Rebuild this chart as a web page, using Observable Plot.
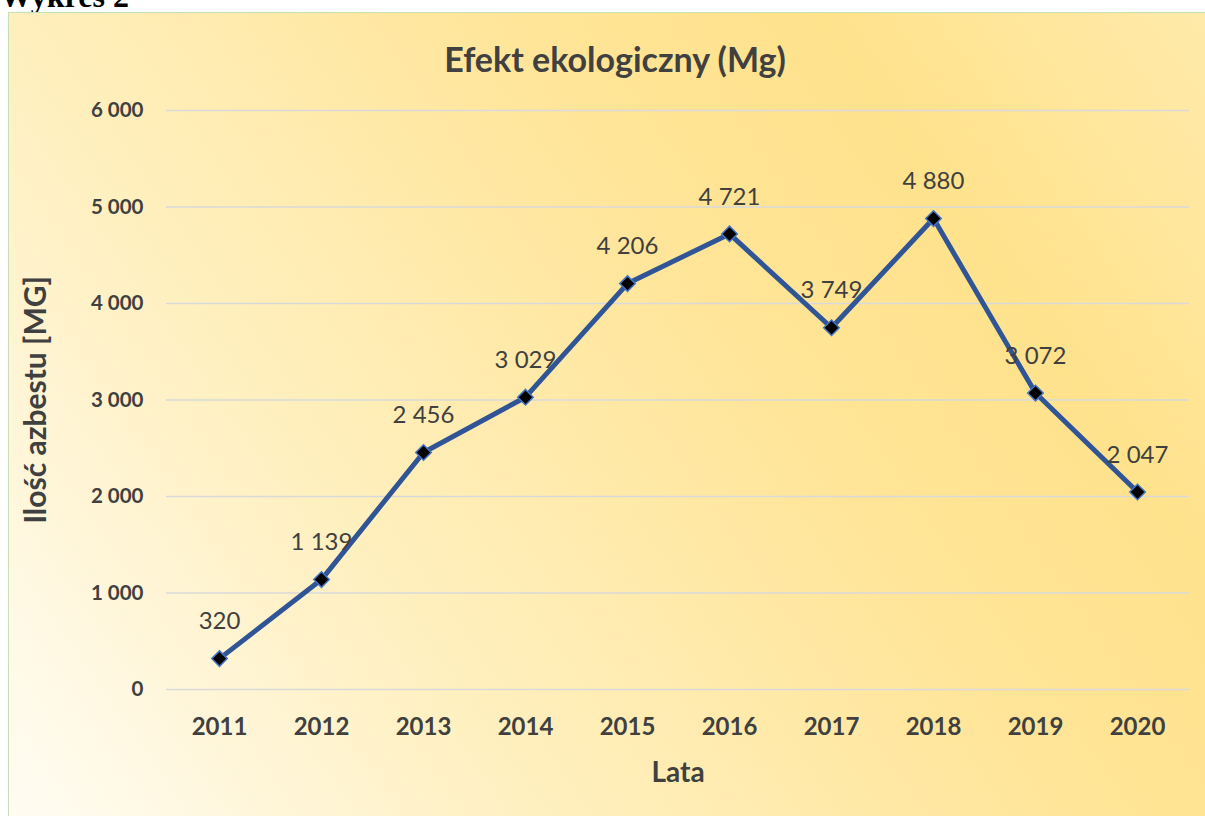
<!DOCTYPE html>
<html>
<head>
<meta charset="utf-8">
<script src="https://cdn.jsdelivr.net/npm/d3@7"></script>
<script src="https://cdn.jsdelivr.net/npm/@observablehq/plot@0.6"></script>
<style>
  html, body { margin: 0; padding: 0; width: 1205px; height: 816px; overflow: hidden; background: #fff; }
  #caption { position: absolute; left: 0px; top: -20px; line-height: 32px; font-family: "Liberation Serif", serif; font-weight: bold; font-size: 32px; color: #000; }
  #frame { position: absolute; left: 8px; top: 12px; width: 1197px; height: 804px; box-sizing: border-box;
    border-left: 1.5px solid #c5e0b4; border-top: 1.5px solid #c5e0b4;
    background: linear-gradient(55deg, #fffcf3 0%, #fff0c0 30%, #ffe599 60%, #ffe28c 78%, #ffeaaa 100%); }
  #title { height: 84px; line-height: 92px; text-align: center; padding-left: 16px; box-sizing: border-box;
    font-family: Lato, "Open Sans", sans-serif; font-weight: bold; font-size: 34px; color: #404040; }
  #chart svg { display: block; background: transparent; }
</style>
</head>
<body>
<div id="caption">Wykres 2</div>
<div id="frame">
  <div id="title">Efekt ekologiczny (Mg)</div>
  <div id="chart"></div>
</div>
<script>
const years = ["2011","2012","2013","2014","2015","2016","2017","2018","2019","2020"];
const values = [320, 1139, 2456, 3029, 4206, 4721, 3749, 4880, 3072, 2047];
const yTicks = [0, 1000, 2000, 3000, 4000, 5000, 6000];

const data = years.map((y, i) => ({year: y, value: values[i]}));
const fmt = d => d3.format(",")(d).replace(/,/g, " ");
const font = 'Lato, "Open Sans", sans-serif';

const chart = Plot.plot({
  width: 1196,
  height: 719,
  marginLeft: 157,
  marginRight: 16,
  marginTop: 13,
  marginBottom: 127,
  style: {fontFamily: font, background: "transparent", overflow: "visible"},
  x: {type: "point", domain: years, padding: 0.5, label: null},
  y: {domain: [0, 6000], label: null},
  marks: [
    Plot.ruleY(yTicks, {stroke: "#d9d9d9", strokeWidth: 1.6}),
    Plot.axisY(yTicks, {tickSize: 0, tickPadding: 23, tickFormat: fmt, fontSize: 20.5, fontWeight: "bold", fill: "#404040", label: null}),
    Plot.axisX({tickSize: 0, tickPadding: 28, fontSize: 24, fontWeight: "bold", fill: "#404040", label: null}),
    Plot.text(["Lata"], {frameAnchor: "bottom", lineAnchor: "middle", textAnchor: "middle", dy: 84, fontSize: 28, fontWeight: "bold", fill: "#404040"}),
    Plot.text(["Ilość azbestu [MG]"], {frameAnchor: "left", textAnchor: "middle", lineAnchor: "middle", dx: -130, rotate: -90, fontSize: 30, fontWeight: "bold", fill: "#404040"}),
    Plot.line(data, {x: "year", y: "value", stroke: "#2f5597", strokeWidth: 5, strokeLinejoin: "round"}),
    Plot.dot(data, {x: "year", y: "value", symbol: "diamond2", r: 7, fill: "#000", stroke: "#4472c4", strokeWidth: 1.5}),
    Plot.text(data, {x: "year", y: "value", text: d => fmt(d.value), dy: -37, fontSize: 24, fill: "#404040"})
  ]
});
document.getElementById("chart").appendChild(chart);
</script>
</body>
</html>
